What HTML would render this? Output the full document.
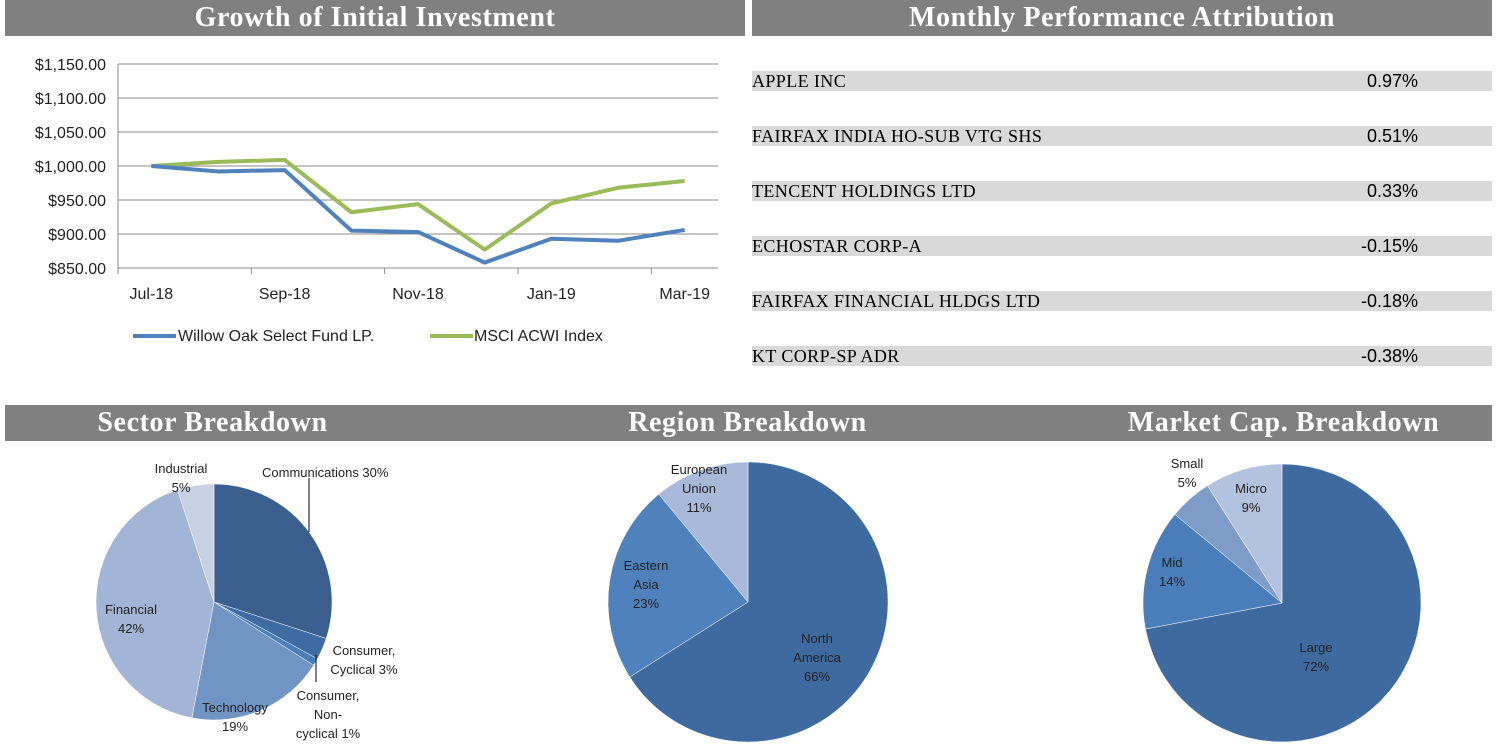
<!DOCTYPE html>
<html><head><meta charset="utf-8"><style>
body{margin:0;width:1497px;height:755px;background:#fff;overflow:hidden;position:relative;font-family:"Liberation Sans",sans-serif}
.bar{position:absolute;background:#808080;color:#fff;font-family:"Liberation Serif",serif;font-size:28px;font-weight:bold;letter-spacing:0.6px;text-align:center;line-height:36px;height:36px}
.row{position:absolute;left:752px;width:740px;height:20px;background:#d9d9d9;font-family:"Liberation Serif",serif;font-size:18px;letter-spacing:0.4px;line-height:20px}
.row span.v{position:absolute;right:74px;font-family:"Liberation Sans",sans-serif;letter-spacing:0}
svg{position:absolute;left:0;top:0}
</style></head><body>
<div class="bar" style="left:5px;top:0;width:740px">Growth of Initial Investment</div>
<div class="bar" style="left:752px;top:0;width:740px">Monthly Performance Attribution</div>
<div class="bar" style="left:5px;top:405px;width:415px">Sector Breakdown</div>
<div class="bar" style="left:420px;top:405px;width:655px">Region Breakdown</div>
<div class="bar" style="left:1075px;top:405px;width:417px">Market Cap. Breakdown</div>
<div id="rows"></div>
<svg id="svg" width="1497" height="755" xmlns="http://www.w3.org/2000/svg" font-family="Liberation Sans, sans-serif"></svg>
<script>
const months=["Jul-18","Aug-18","Sep-18","Oct-18","Nov-18","Dec-18","Jan-19","Feb-19","Mar-19"];
const fundValues=[1000,992,994,905,903,858,893,890,906];
const indexValues=[1000,1006,1009,932,944,877,945,968,978];
const yTicks=[850,900,950,1000,1050,1100,1150];
const holdings=["APPLE INC","FAIRFAX INDIA HO-SUB VTG SHS","TENCENT HOLDINGS LTD","ECHOSTAR CORP-A","FAIRFAX FINANCIAL HLDGS LTD","KT CORP-SP ADR"];
const attribution=[0.97,0.51,0.33,-0.15,-0.18,-0.38];
const sectorLabels=["Communications","Consumer, Cyclical","Consumer, Non-cyclical","Technology","Financial","Industrial"];
const sectorValues=[30,3,1,19,42,5];
const regionLabels=["North America","Eastern Asia","European Union"];
const regionValues=[66,23,11];
const capLabels=["Large","Mid","Small","Micro"];
const capValues=[72,14,5,9];

const svg=document.getElementById('svg');const NS="http://www.w3.org/2000/svg";
function el(t,a,p){const e=document.createElementNS(NS,t);for(const k in a)e.setAttribute(k,a[k]);(p||svg).appendChild(e);return e;}
function txt(x,y,s,size,anchor,fill){const e=el('text',{x:x,y:y,'font-size':size,'text-anchor':anchor||'middle',fill:fill||'#222'});e.textContent=s;return e;}
const X0=118,X1=718,Y0=268,Y1=64;
const xs=i=>X0+(X1-X0)/months.length*(i+0.5);
const ys=v=>Y0-(v-850)/300*(Y0-Y1);
yTicks.forEach(t=>{const l=el('line',{x1:X0,x2:X1,y1:ys(t),y2:ys(t),stroke:'#888','stroke-width':1});

const tx=txt(X0-12,ys(t)+6,'$'+t.toLocaleString('en-US',{minimumFractionDigits:2}),16,'end');
});
el('line',{x1:X0,x2:X0,y1:Y1,y2:Y0+4,stroke:'#888'});
for(let i=0;i<=months.length;i+=2){el('line',{x1:X0+(X1-X0)/months.length*i,x2:X0+(X1-X0)/months.length*i,y1:Y0,y2:Y0+6,stroke:'#888'});}
months.forEach((m,i)=>{if(i%2==0){const t=txt(xs(i),299,m,16);}});
function series(vals,color,name){const p=el('polyline',{points:vals.map((v,i)=>xs(i)+','+ys(v)).join(' '),fill:'none',stroke:color,'stroke-width':4,'stroke-linejoin':'round'});
}
series(indexValues,'#9bbb59','index-line');
series(fundValues,'#4f81bd','fund-line');
el('line',{x1:133,x2:176,y1:336,y2:336,stroke:'#4f81bd','stroke-width':4});
const l1=txt(178,341,'Willow Oak Select Fund LP.',16,'start');
el('line',{x1:430,x2:473,y1:336,y2:336,stroke:'#9bbb59','stroke-width':4});
const l2=txt(474,341,'MSCI ACWI Index',16,'start');
const rows=document.getElementById('rows');
holdings.forEach((h,i)=>{const d=document.createElement('div');d.className='row';d.style.top=(71+55*i)+'px';

d.innerHTML=h+'<span class="v">'+attribution[i].toFixed(2)+'%</span>';rows.appendChild(d);});
function pie(cx,cy,r,vals,colors,name){const tot=vals.reduce((a,b)=>a+b,0);let a=0;
vals.forEach((v,i)=>{const a0=a/tot*2*Math.PI,a1=(a+v)/tot*2*Math.PI;a+=v;
const p0=[cx+r*Math.sin(a0),cy-r*Math.cos(a0)],p1=[cx+r*Math.sin(a1),cy-r*Math.cos(a1)];
const s=el('path',{d:`M${cx},${cy}L${p0[0]},${p0[1]}A${r},${r} 0 ${a1-a0>Math.PI?1:0} 1 ${p1[0]},${p1[1]}Z`,fill:colors[i],stroke:'#fff','stroke-width':0.5});
});}
pie(214,602,118,sectorValues,['#3a5f8e','#3f6ba3','#4a7ebb','#7094c4','#a3b5d7','#c8d1e4'],'sector');
pie(748,602,140,regionValues,['#3f6aa0','#4f81bd','#a8b9d9'],'region');
pie(1282,603,139,capValues,['#3f6aa0','#4a7ebb','#7f9bc8','#b3c2df'],'cap');
function lab(x,y,lines){lines.forEach((s,i)=>{const t=txt(x,y+i*19,s,13);});}
lab(181,473,['Industrial','5%']);
txt(262,477,sectorLabels[0]+' '+sectorValues[0]+'%',13,'start');
el('line',{x1:309,x2:309,y1:478,y2:532,stroke:'#000'});
lab(131,614,['Financial','42%']);lab(235,712,['Technology','19%']);
lab(364,655,['Consumer,','Cyclical 3%']);lab(328,700,['Consumer,','Non-','cyclical 1%']);
el('line',{x1:316,x2:316,y1:655,y2:682,stroke:'#000'});
lab(699,474,['European','Union','11%']);lab(646,570,['Eastern','Asia','23%']);lab(817,643,['North','America','66%']);
lab(1187,468,['Small','5%']);lab(1251,493,['Micro','9%']);lab(1172,567,['Mid','14%']);lab(1316,652,['Large','72%']);
</script>
</body></html>
